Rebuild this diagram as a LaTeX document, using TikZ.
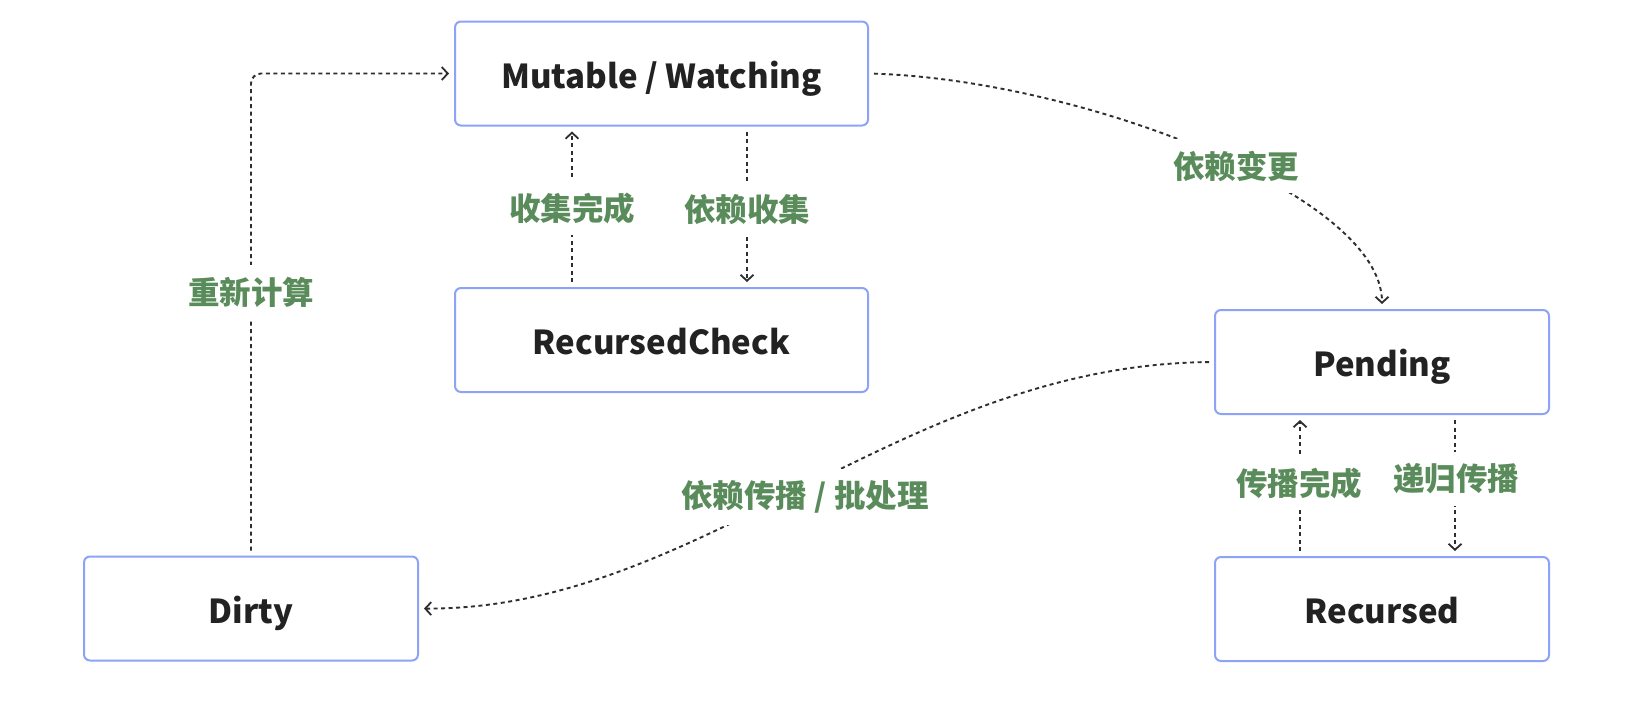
\documentclass[tikz,border=0pt]{standalone}
\usepackage{fontspec}
\setmainfont{Noto Sans CJK SC}
\usetikzlibrary{arrows.meta}
\definecolor{boxblue}{HTML}{8CA3F8}
\definecolor{lblgreen}{HTML}{5A8C5B}
\definecolor{txtdark}{HTML}{222222}
\definecolor{arrowgray}{HTML}{2E2E2E}
\tikzset{
  state/.style={draw=boxblue, line width=2pt, rounded corners=6pt, fill=white,
    text=txtdark, font=\fontsize{33}{36}\selectfont\bfseries, align=center,
    inner sep=0pt, minimum height=104pt, text height=29pt, text depth=0pt},
  flow/.style={draw=arrowgray, line width=1.9pt, dash pattern=on 4pt off 3.5pt,
    -{Straight Barb[length=6pt,width=13pt,line width=1.8pt]},
    shorten >=5pt, shorten <=5pt},
  lbl/.style={fill=white, text=lblgreen, font=\fontsize{31.5}{34}\selectfont\bfseries,
    inner xsep=6pt, inner ysep=12pt}
}
\begin{document}
\begin{tikzpicture}[x=1pt,y=-1pt]
\useasboundingbox[fill=white] (0,0) rectangle (1628,716);

\node[state, minimum width=413pt] (mut) at (661.5,73.5) {Mutable / Watching};
\node[state, minimum width=413pt] (rc) at (661.5,340) {RecursedCheck};
\node[state, minimum width=334pt] (pend) at (1382,362) {Pending};
\node[state, minimum width=334pt] (rec) at (1382,609) {Recursed};
\node[state, minimum width=334pt] (dirty) at (251,608.5) {Dirty};

% Dirty -> Mutable
\draw[flow, rounded corners=10pt] (dirty.north) |- (mut.west);
% RecursedCheck <-> Mutable
\draw[flow] ([xshift=-89.5pt]rc.north) -- ([xshift=-89.5pt]mut.south);
\draw[flow] ([xshift=85.5pt]mut.south) -- ([xshift=85.5pt]rc.north);
% Mutable -> Pending
\draw[flow] (mut.east) .. controls (1080,80) and (1382,195) .. (pend.north);
% Pending -> Dirty
\draw[flow] (pend.west) .. controls (900,365) and (700,610) .. (dirty.east);
% Recursed <-> Pending
\draw[flow] ([xshift=-82pt]rec.north) -- ([xshift=-82pt]pend.south);
\draw[flow] ([xshift=73pt]pend.south) -- ([xshift=73pt]rec.north);

% labels
\node[lbl] (l1) at (251,292) {重新计算};
\node[lbl] (l2) at (572,208) {收集完成};
\node[lbl] (l3) at (747,210) {依赖收集};
\node[lbl] (l4) at (1236,166) {依赖变更};
\node[lbl] (l5) at (805,497) {依赖传播 / 批处理};
\node[lbl] (l6) at (1299,483) {传播完成};
\node[lbl] (l7) at (1456,479) {递归传播};
\end{tikzpicture}
\end{document}
